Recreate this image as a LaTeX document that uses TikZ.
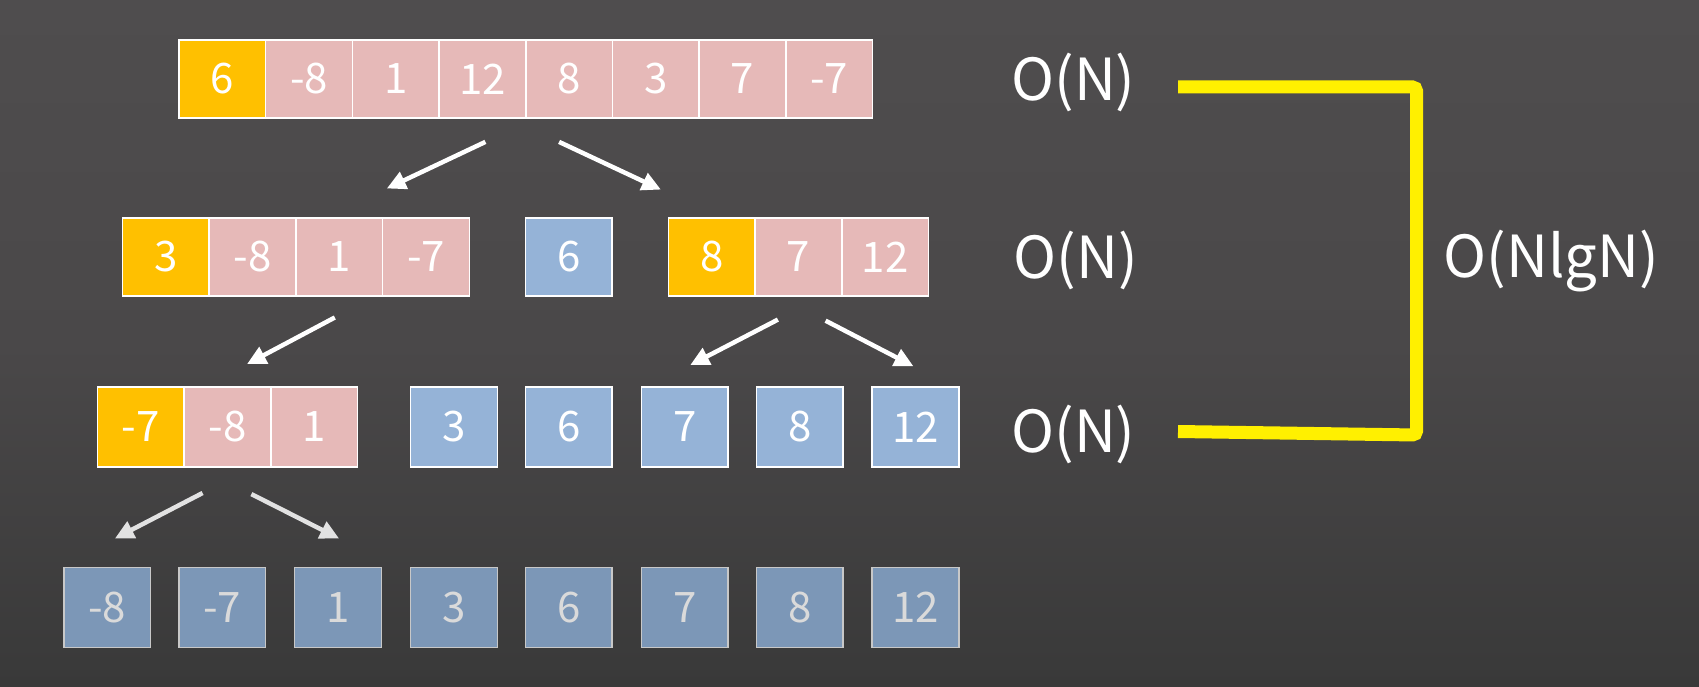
\documentclass[tikz,border=0pt]{standalone}
\usepackage{fontspec}
\setmainfont{Noto Sans CJK SC}
\usetikzlibrary{arrows.meta}
\definecolor{bgtop}{HTML}{4F4D4E}
\definecolor{bgmid}{HTML}{4A4849}
\definecolor{bgbot}{HTML}{393939}
\definecolor{cOrange}{HTML}{FFC000}
\definecolor{cPink}{HTML}{E6B9B8}
\definecolor{cBlue}{HTML}{95B3D7}
\definecolor{cDBlue}{HTML}{7C97B7}
\definecolor{cDBorder}{HTML}{C8C8C8}
\definecolor{cDText}{HTML}{DADADA}
\definecolor{cArrowGray}{HTML}{E2E2E2}
\definecolor{cYellow}{HTML}{FFF000}
\begin{document}
\begin{tikzpicture}[x=1pt,y=-1pt,
  cell/.style={draw=white, line width=1.5pt, minimum width=86.7pt, minimum height=78pt,
    inner sep=0pt, text=white, font=\fontsize{42}{42}\selectfont},
  ora/.style={cell, fill=cOrange},
  pnk/.style={cell, fill=cPink},
  blu/.style={cell, fill=cBlue, minimum height=80pt},
  dblu/.style={cell, fill=cDBlue, draw=cDBorder, text=cDText, minimum height=80pt},
  arr/.style={-{Triangle[length=19pt,width=18pt]}, line width=4.5pt, draw=white},
  arrg/.style={arr, draw=cArrowGray},
  cplx/.style={text=white, inner sep=0pt, font=\fontsize{58}{58}\selectfont},
  brk/.style={draw=cYellow, line width=13pt, rounded corners=4pt}]
\shade[top color=bgtop, bottom color=bgbot, middle color=bgmid] (0,0) rectangle (1699,687);
\useasboundingbox (0,0) rectangle (1699,687);

% row 1
\node[ora] (r1a) at (222.35,79) {6};
\node[pnk] (r1b) at (309.05,79) {-8};
\node[pnk] (r1c) at (395.75,79) {1};
\node[pnk] (r1d) at (482.45,79) {12};
\node[pnk] (r1e) at (569.15,79) {8};
\node[pnk] (r1f) at (655.85,79) {3};
\node[pnk] (r1g) at (742.55,79) {7};
\node[pnk] (r1h) at (829.25,79) {-7};

% row 2
\node[ora] (r2a) at (165.85,257) {3};
\node[pnk] (r2b) at (252.55,257) {-8};
\node[pnk] (r2c) at (339.25,257) {1};
\node[pnk] (r2d) at (425.95,257) {-7};
\node[blu, minimum height=78pt] (r2e) at (568.85,257) {6};
\node[ora] (r2f) at (711.85,257) {8};
\node[pnk] (r2g) at (798.55,257) {7};
\node[pnk] (r2h) at (885.25,257) {12};

% row 3
\node[ora, minimum height=80pt] (r3a) at (140.85,427) {-7};
\node[pnk, minimum height=80pt] (r3b) at (227.55,427) {-8};
\node[pnk, minimum height=80pt] (r3c) at (314.25,427) {1};
\node[blu] (r3d) at (453.95,427) {3};
\node[blu] (r3e) at (568.85,427) {6};
\node[blu] (r3f) at (684.75,427) {7};
\node[blu] (r3g) at (799.65,427) {8};
\node[blu] (r3h) at (915.55,427) {12};

% row 4
\node[dblu] (r4a) at (107.25,607.5) {-8};
\node[dblu] (r4b) at (222.15,607.5) {-7};
\node[dblu] (r4c) at (338.05,607.5) {1};
\node[dblu] (r4d) at (453.95,607.5) {3};
\node[dblu] (r4e) at (568.85,607.5) {6};
\node[dblu] (r4f) at (684.75,607.5) {7};
\node[dblu] (r4g) at (799.65,607.5) {8};
\node[dblu] (r4h) at (915.55,607.5) {12};

% arrows
\coordinate (a1s) at (485.4,141.9); \coordinate (a1e) at (386.8,188.5);
\coordinate (a2s) at (559.1,141.9); \coordinate (a2e) at (660.9,189.6);
\coordinate (a3s) at (334.8,317.5); \coordinate (a3e) at (247.0,364.1);
\coordinate (a4s) at (777.9,319.6); \coordinate (a4e) at (690.2,365.1);
\coordinate (a5s) at (825.6,320.7); \coordinate (a5e) at (913.4,366.2);
\coordinate (a6s) at (202.6,493.0); \coordinate (a6e) at (114.9,538.5);
\coordinate (a7s) at (251.4,494.1); \coordinate (a7e) at (339.1,538.5);
\draw[arr] (a1s) -- (a1e);
\draw[arr] (a2s) -- (a2e);
\draw[arr] (a3s) -- (a3e);
\draw[arr] (a4s) -- (a4e);
\draw[arr] (a5s) -- (a5e);
\draw[arrg] (a6s) -- (a6e);
\draw[arrg] (a7s) -- (a7e);

% complexity labels
\node[cplx] (c1) at (1073.5,82) {O(N)};
\node[cplx] (c2) at (1076,260) {O(N)};
\node[cplx] (c3) at (1073.5,434) {O(N)};
\node[cplx] (c4) at (1551.5,261) {O(NlgN)};

% bracket
\coordinate (y1) at (1178,87);
\coordinate (y2) at (1416.5,87);
\coordinate (y3) at (1416.5,435);
\coordinate (y4) at (1178,431.5);
\draw[brk] (y1) -- (y2) -- (y3) -- (y4);
\end{tikzpicture}
\end{document}
